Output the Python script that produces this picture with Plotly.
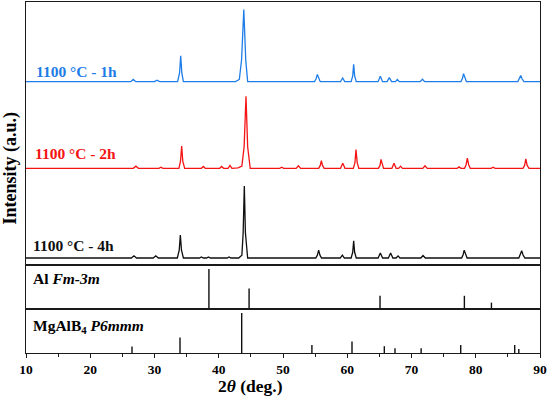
import plotly.graph_objects as go
from plotly.subplots import make_subplots

# ---- XRD profiles (2theta, intensity relative to own baseline; main peak = 100) ----
profile_1h = [(10, 0), (20, 0.3), (26.3, 0), (26.7, 3), (27.1, 0), (30.0, 0), (30.4, 2), (30.8, 0),
              (33.6, 0), (33.9, 12), (34.08, 36), (34.25, 12), (34.5, 0),
              (42.6, 0), (43.2, 3), (43.55, 30), (43.9, 100), (44.2, 30), (44.5, 0),
              (54.9, 0), (55.15, 4), (55.34, 10), (55.55, 4), (55.8, 0),
              (58.95, 0), (59.29, 5), (59.6, 0), (60.6, 0), (60.85, 8), (61.0, 24), (61.15, 8), (61.4, 0),
              (64.8, 0), (65.15, 7.5), (65.5, 0), (66.2, 0), (66.55, 5.5), (66.9, 0),
              (67.5, 0), (67.8, 3), (68.1, 0), (71.35, 0), (71.7, 3.3), (72.05, 0),
              (77.7, 0), (77.95, 5), (78.1, 11), (78.3, 5), (78.55, 0),
              (86.55, 0), (86.8, 4), (87.0, 8.5), (87.2, 4), (87.5, 0), (90, 0)]

profile_2h = [(10, 0), (18, 0.4), (26.7, 0), (27.1, 3), (27.5, 0), (30.7, 0), (31.0, 1.5), (31.3, 0),
              (33.8, 0), (34.05, 10), (34.23, 31), (34.4, 10), (34.7, 0),
              (37.3, 0), (37.6, 2.5), (37.9, 0), (40.15, 0), (40.46, 2.5), (40.75, 0),
              (41.45, 0), (41.75, 4), (42.05, 0), (43.0, 0.5), (43.6, 3), (43.95, 30), (44.24, 100),
              (44.5, 30), (44.9, 0), (49.5, 0), (49.8, 1.5), (50.1, 0), (52.05, 0), (52.4, 3.6), (52.75, 0),
              (55.55, 0), (55.8, 4), (55.97, 10.5), (56.15, 4), (56.4, 0),
              (58.95, 0), (59.3, 7), (59.65, 0), (60.95, 0), (61.2, 8), (61.36, 26), (61.55, 8), (61.8, 0),
              (64.85, 0), (65.1, 4), (65.25, 12.5), (65.45, 4), (65.65, 0),
              (66.95, 0), (67.28, 7), (67.6, 0), (68.0, 0), (68.3, 3), (68.6, 0),
              (71.75, 0), (72.1, 3.6), (72.45, 0), (77.1, 0), (77.4, 2), (77.7, 0),
              (78.25, 0), (78.5, 5), (78.69, 14), (78.9, 5), (79.15, 0),
              (82.4, 0), (82.7, 1.5), (83.0, 0), (87.35, 0), (87.6, 4), (87.8, 13), (88.0, 4), (88.3, 0), (90, 0)]

profile_4h = [(10, 0), (20, 0.3), (26.4, 0), (26.8, 3), (27.2, 0), (29.8, 0), (30.2, 3), (30.6, 0),
              (33.55, 0), (33.85, 11), (34.02, 32), (34.2, 11), (34.5, 0),
              (37.0, 0), (37.3, 1.5), (37.6, 0), (38.1, 0), (38.4, 1.5), (38.7, 0),
              (41.3, 0), (41.6, 1.5), (41.9, 0), (43.1, 0), (43.6, 4), (43.8, 35), (43.98, 100),
              (44.15, 35), (44.5, 0), (55.1, 0), (55.35, 4), (55.55, 11), (55.75, 4), (56.0, 0),
              (58.9, 0), (59.24, 4), (59.55, 0), (60.6, 0), (60.85, 8), (61.0, 24), (61.15, 8), (61.4, 0),
              (64.8, 0), (65.15, 7), (65.5, 0), (66.4, 0), (66.75, 7), (67.1, 0),
              (67.6, 0), (67.9, 3), (68.2, 0), (71.45, 0), (71.8, 3.5), (72.15, 0),
              (77.8, 0), (78.05, 5), (78.2, 11), (78.4, 5), (78.65, 0),
              (86.7, 0), (86.95, 4.5), (87.15, 10), (87.35, 4.5), (87.65, 0), (90, 0)]

series_labels = ["1100 °C - 1h", "1100 °C - 2h", "1100 °C - 4h"]

# ---- Reference patterns (sticks) ----
al_pos = [38.47, 44.72, 65.10, 78.23, 82.44]
al_int = [100, 51, 33, 33, 16]
mgalb4_pos = [26.5, 33.97, 43.57, 54.5, 60.74, 65.77, 67.43, 71.5, 77.66, 86.06, 86.7]
mgalb4_int = [16, 39, 100, 20, 29, 17, 12, 12, 20, 20, 10]

# ---- styling / layout ----
FONT = "Liberation Serif"
BLUE = "rgb(30,125,232)"
RED = "rgb(245,20,20)"
BLACK = "rgb(15,15,15)"
offsets = {"1h": 245.0, "2h": 124.6, "4h": 0.0}

fig = make_subplots(rows=3, cols=1, shared_xaxes=True, vertical_spacing=0,
                    row_heights=[263, 44, 44])

for prof, key, col in [(profile_1h, "1h", BLUE), (profile_2h, "2h", RED), (profile_4h, "4h", BLACK)]:
    fig.add_trace(go.Scatter(x=[p[0] for p in prof], y=[p[1] + offsets[key] for p in prof],
                             mode="lines", line=dict(color=col, width=1.3), showlegend=False,
                             hoverinfo="skip"), row=1, col=1)


def sticks(pos, inten):
    xs, ys = [], []
    for p, h in zip(pos, inten):
        xs += [p, p, None]
        ys += [0, h, None]
    return xs, ys


for r, (pos, inten) in [(2, (al_pos, al_int)), (3, (mgalb4_pos, mgalb4_int))]:
    xs, ys = sticks(pos, inten)
    fig.add_trace(go.Scatter(x=xs, y=ys, mode="lines", line=dict(color=BLACK, width=1.4),
                             showlegend=False, hoverinfo="skip"), row=r, col=1)

axis_line = dict(showline=True, linecolor="#1a1a1a", linewidth=1.4, mirror=True,
                 showgrid=False, zeroline=False)

fig.update_xaxes(range=[10, 90], **axis_line)
fig.update_xaxes(ticks="", showticklabels=False, row=1, col=1)
fig.update_xaxes(ticks="", showticklabels=False, row=2, col=1)
fig.update_xaxes(ticks="outside", ticklen=4, tickwidth=1.2, tickcolor="#1a1a1a",
                 tick0=10, dtick=10,
                 minor=dict(ticks="outside", ticklen=2.5, tickwidth=1.1, tickcolor="#1a1a1a",
                            tick0=5, dtick=5),
                 tickfont=dict(family=FONT, size=13.5, color="black", weight="bold"),
                 row=3, col=1)
fig.update_yaxes(ticks="", showticklabels=False, **axis_line)
fig.update_yaxes(range=[-9.7, 355.6], row=1, col=1)
fig.update_yaxes(range=[0, 110], row=2, col=1)
fig.update_yaxes(range=[0, 110], row=3, col=1)

ann = []
for txt, col, x, y in [(series_labels[0], BLUE, 0.0160, 0.8034),
                       (series_labels[1], RED, 0.0130, 0.5670),
                       (series_labels[2], BLACK, 0.0100, 0.3049)]:
    ann.append(dict(text="<b>" + txt + "</b>", x=x, y=y, xref="paper", yref="paper",
                    xanchor="left", yanchor="middle", showarrow=False,
                    font=dict(family=FONT, size=15.5, color=col)))
ann.append(dict(text="<b>Al <i>Fm-3m</i></b>", x=0.0100, y=0.2117, xref="paper", yref="paper",
                xanchor="left", yanchor="middle", showarrow=False,
                font=dict(family=FONT, size=15.5, color="black")))
ann.append(dict(text="<b>MgAlB<sub>4</sub> <i>P6mmm</i></b>", x=0.0100, y=0.0769, xref="paper",
                yref="paper", xanchor="left", yanchor="middle", showarrow=False,
                font=dict(family=FONT, size=15.5, color="black")))
ann.append(dict(text="<b>Intensity (a.u.)</b>", x=-0.0311, y=0.5256, xref="paper", yref="paper",
                xanchor="center", yanchor="middle", textangle=-90, showarrow=False,
                font=dict(family=FONT, size=18, color="black")))
ann.append(dict(text="<b>2<i>θ</i> (deg.)</b>", x=0.4377, y=-0.095, xref="paper", yref="paper",
                xanchor="center", yanchor="middle", showarrow=False,
                font=dict(family=FONT, size=17.5, color="black")))

fig.update_layout(width=550, height=396, margin=dict(l=26, r=10, t=2, b=43),
                  plot_bgcolor="white", paper_bgcolor="white", annotations=ann,
                  showlegend=False)

fig.write_html("out.html", config={"displayModeBar": False},
               post_script="document.body.style.margin='0px';")
